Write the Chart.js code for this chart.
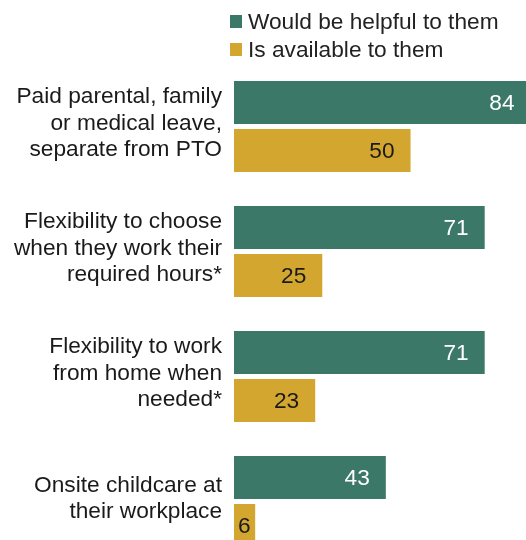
<!DOCTYPE html>
<html>
<head>
<meta charset="utf-8">
<script src="https://cdn.jsdelivr.net/npm/chart.js@4/dist/chart.umd.min.js"></script>
<style>
  html, body { margin: 0; padding: 0; background: #fff; overflow: hidden; }
  #wrap { position: relative; width: 526px; height: 564px; }
  #legend { position: absolute; left: 230px; top: 7px; font: 22.7px "Liberation Sans", Arial, sans-serif; color: #222; }
  #legend .row { height: 28px; display: flex; align-items: center; }
  #legend .box { width: 12px; height: 13px; margin-right: 6px; }
</style>
</head>
<body>
<div id="wrap">
  <canvas id="chart" width="526" height="564"></canvas>
  <div id="legend"></div>
</div>
<script>
const categories = [
  ["Paid parental, family", "or medical leave,", "separate from PTO"],
  ["Flexibility to choose", "when they work their", "required hours*"],
  ["Flexibility to work", "from home when", "needed*"],
  ["Onsite childcare at", "their workplace"],
];
const seriesNames = ["Would be helpful to them", "Is available to them"];
const helpful = [84, 71, 71, 43];
const available = [50, 25, 23, 6];

const GREEN = "#3b7868";
const GOLD = "#d3a630";
const FONT = '"Liberation Sans", Arial, sans-serif';
const FONT_SIZE = 22.7;

// value labels drawn inside the end of each bar
const barLabels = {
  id: "barLabels",
  afterDatasetsDraw(chart) {
    const ctx = chart.ctx;
    ctx.save();
    ctx.font = FONT_SIZE + "px " + FONT;
    ctx.textAlign = "right";
    ctx.textBaseline = "middle";
    chart.data.datasets.forEach((ds, i) => {
      const meta = chart.getDatasetMeta(i);
      meta.data.forEach((bar, j) => {
        const text = String(ds.data[j]);
        const w = ctx.measureText(text).width;
        const x = Math.max(bar.x - 16, bar.base + w + 4);
        ctx.fillStyle = i === 0 ? "#ffffff" : "#1a1a1a";
        ctx.fillText(text, x, bar.y + 1);
      });
    });
    ctx.restore();
  },
};

const chart = new Chart(document.getElementById("chart"), {
  type: "bar",
  data: {
    labels: categories,
    datasets: [
      { label: seriesNames[0], data: helpful, backgroundColor: GREEN },
      { label: seriesNames[1], data: available, backgroundColor: GOLD },
    ],
  },
  options: {
    indexAxis: "y",
    responsive: false,
    animation: false,
    layout: { padding: { top: 64, right: 0, bottom: 0, left: 0 } },
    datasets: {
      bar: { categoryPercentage: 0.768, barPercentage: 0.896, clip: false },
    },
    plugins: {
      legend: { display: false },
      tooltip: { enabled: false },
    },
    scales: {
      x: { display: false, min: 0, max: 82.7 },
      y: {
        grid: { display: false, drawTicks: false },
        border: { display: false },
        afterFit(scale) {
          // fixed label column; labels may hang over the plot edges
          scale.width = 234;
          scale.paddingTop = 0;
          scale.paddingBottom = 0;
        },
        ticks: {
          padding: 12,
          labelOffset: -3,
          color: "#1a1a1a",
          font: { family: FONT, size: FONT_SIZE, lineHeight: 1.16 },
        },
      },
    },
  },
  plugins: [barLabels],
});

// legend built from the chart's datasets
const legendEl = document.getElementById("legend");
chart.data.datasets.forEach((ds) => {
  const row = document.createElement("div");
  row.className = "row";
  const box = document.createElement("span");
  box.className = "box";
  box.style.background = ds.backgroundColor;
  const txt = document.createElement("span");
  txt.textContent = ds.label;
  row.appendChild(box);
  row.appendChild(txt);
  legendEl.appendChild(row);
});
</script>
</body>
</html>
